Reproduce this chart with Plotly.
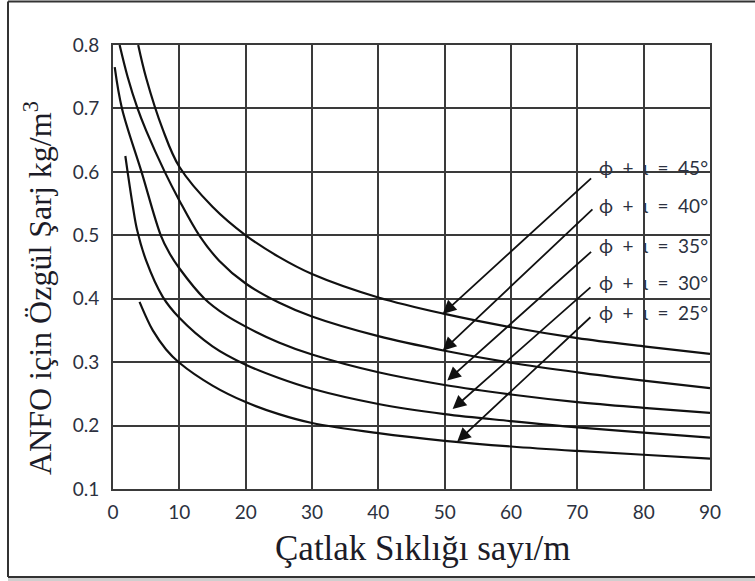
import plotly.graph_objects as go

# Specific charge curves for ANFO versus joint frequency, one per (phi + iota) angle
x_45 = [3.8, 5.0, 7.5, 10, 15, 20, 25, 30, 40, 50, 60, 70, 80, 90]
y_45 = [0.800, 0.748, 0.667, 0.608, 0.545, 0.500, 0.466, 0.439, 0.402, 0.376, 0.355, 0.338, 0.325, 0.313]

x_40 = [1.0, 2.2, 3.7, 5.0, 7.8, 10, 13, 16, 20, 25, 30, 40, 50, 60, 70, 80, 90]
y_40 = [0.800, 0.750, 0.700, 0.665, 0.600, 0.555, 0.500, 0.460, 0.424, 0.394, 0.372, 0.341, 0.318, 0.299, 0.284, 0.271, 0.259]

x_35 = [0.26, 1.35, 4.3, 7.2, 8.5, 10, 13.8, 17, 20, 25, 30, 40, 50, 60, 70, 80, 90]
y_35 = [0.765, 0.700, 0.600, 0.500, 0.472, 0.448, 0.400, 0.374, 0.356, 0.331, 0.312, 0.284, 0.264, 0.249, 0.237, 0.228, 0.220]

x_30 = [1.86, 2.2, 3.0, 3.6, 5, 7.5, 10, 15, 20, 25, 30, 40, 50, 60, 70, 80, 90]
y_30 = [0.625, 0.600, 0.545, 0.510, 0.460, 0.403, 0.370, 0.325, 0.296, 0.275, 0.258, 0.234, 0.218, 0.207, 0.197, 0.189, 0.181]

x_25 = [4.0, 5, 6, 8, 10, 15, 20, 25, 30, 40, 50, 60, 70, 80, 90]
y_25 = [0.395, 0.371, 0.350, 0.320, 0.299, 0.263, 0.237, 0.218, 0.204, 0.188, 0.176, 0.167, 0.160, 0.154, 0.148]

curves = [(x_45, y_45), (x_40, y_40), (x_35, y_35), (x_30, y_30), (x_25, y_25)]

# Angle labels and where their arrows point on each curve
angle_labels = ["ϕ\u2002+\u2002ι\u2002=\u200245°", "ϕ\u2002+\u2002ι\u2002=\u200240°",
                "ϕ\u2002+\u2002ι\u2002=\u200235°", "ϕ\u2002+\u2002ι\u2002=\u200230°",
                "ϕ\u2002+\u2002ι\u2002=\u200225°"]
label_x = [72.9, 72.9, 72.9, 72.9, 72.9]
label_y = [0.607, 0.547, 0.484, 0.426, 0.379]
arrow_tail_x = [72.3, 72.5, 72.3, 72.2, 72.2]
arrow_tail_y = [0.592, 0.543, 0.476, 0.420, 0.373]
arrow_tip_x = [49.7, 49.7, 50.4, 51.2, 51.9]
arrow_tip_y = [0.376, 0.318, 0.271, 0.226, 0.175]

x_ticks = [0, 10, 20, 30, 40, 50, 60, 70, 80, 90]
y_ticks = [0.1, 0.2, 0.3, 0.4, 0.5, 0.6, 0.7, 0.8]

W, H = 755, 581
ML, MR, MT, MB = 113, 45, 45, 92
PW, PH = W - ML - MR, H - MT - MB


def px_x(p):
    return (p - ML) / PW


def px_y(p):
    return (H - MB - p) / PH


fig = go.Figure()
for xs, ys in curves:
    fig.add_trace(go.Scatter(
        x=xs, y=ys, mode="lines",
        line=dict(color="#111111", width=2.2, shape="spline", smoothing=1.0),
        hoverinfo="skip", showlegend=False,
    ))

tick_font = dict(family="Lato, 'Open Sans', sans-serif", size=19, color="#2c3140")
label_font = dict(family="Lato, 'Open Sans', sans-serif", size=19, color="#2c3140")
title_font = dict(family="'Liberation Serif', 'DejaVu Serif', serif", color="#1c1c28")

annotations = []
for i, txt in enumerate(angle_labels):
    annotations.append(dict(
        x=arrow_tip_x[i], y=arrow_tip_y[i], xref="x", yref="y",
        ax=arrow_tail_x[i], ay=arrow_tail_y[i], axref="x", ayref="y",
        text="", showarrow=True, arrowhead=2, arrowsize=1.5, arrowwidth=1.8,
        arrowcolor="#111111", standoff=0,
    ))
    annotations.append(dict(
        x=label_x[i], y=label_y[i], xref="x", yref="y",
        text=txt, showarrow=False, xanchor="left", yanchor="middle",
        font=label_font,
    ))

annotations.append(dict(
    x=px_x(423), y=px_y(548), xref="paper", yref="paper",
    text="Çatlak Sıklığı sayı/m", showarrow=False,
    xanchor="center", yanchor="middle", font=dict(size=35, **title_font),
))
annotations.append(dict(
    x=px_x(38), y=px_y(288), xref="paper", yref="paper",
    text="ANFO için Özgül Şarj kg/m<sup>3</sup>", showarrow=False, textangle=-90,
    xanchor="center", yanchor="middle", font=dict(size=32, **title_font),
))

frame = dict(color="#333333", width=2)
shapes = [
    # soft shadow under the outer frame
    dict(type="rect", xref="paper", yref="paper",
         x0=px_x(8), x1=px_x(800), y0=px_y(584), y1=px_y(578),
         fillcolor="#cfcfcf", line=dict(width=0), layer="below"),
    # outer frame: left, top and bottom edges
    dict(type="line", xref="paper", yref="paper",
         x0=px_x(8), x1=px_x(8), y0=px_y(577), y1=px_y(1.5), line=frame),
    dict(type="line", xref="paper", yref="paper",
         x0=px_x(8), x1=px_x(800), y0=px_y(1.5), y1=px_y(1.5), line=frame),
    dict(type="line", xref="paper", yref="paper",
         x0=px_x(8), x1=px_x(800), y0=px_y(577), y1=px_y(577), line=frame),
]

fig.update_layout(
    width=W, height=H,
    margin=dict(l=ML, r=MR, t=MT, b=MB),
    paper_bgcolor="white", plot_bgcolor="white",
    annotations=annotations, shapes=shapes,
    xaxis=dict(
        range=[0, 90], tickvals=x_ticks, ticktext=[str(v) for v in x_ticks],
        showgrid=True, gridcolor="#3a3a3a", gridwidth=2,
        showline=True, linecolor="#3a3a3a", linewidth=2, mirror=True,
        zeroline=False, ticks="", tickfont=tick_font, ticklabelstandoff=5,
    ),
    yaxis=dict(
        range=[0.1, 0.8], tickvals=y_ticks, ticktext=[f"{v:.1f}" for v in y_ticks],
        showgrid=True, gridcolor="#3a3a3a", gridwidth=2,
        showline=True, linecolor="#3a3a3a", linewidth=2, mirror=True,
        zeroline=False, ticks="", tickfont=tick_font, ticklabelstandoff=8,
    ),
)

fig.write_html("out.html")
